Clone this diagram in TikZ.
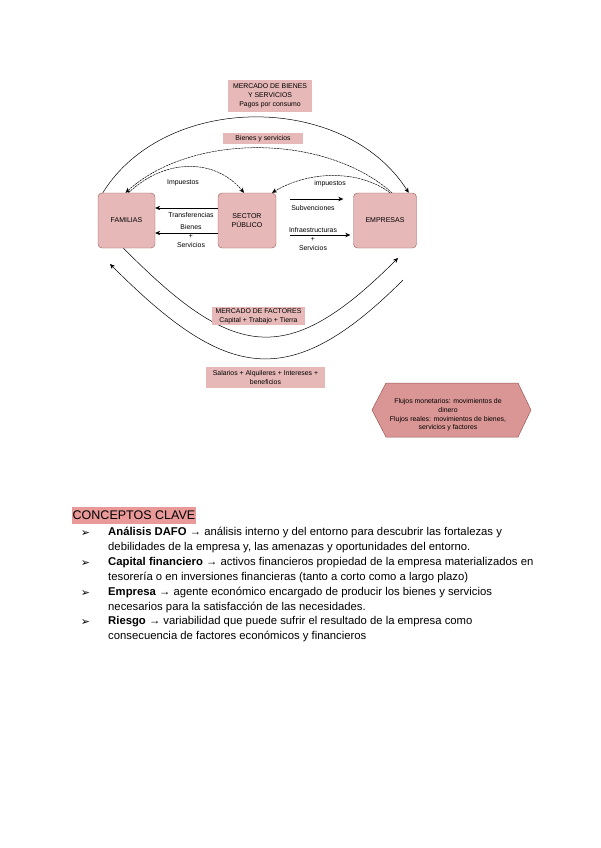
\documentclass[tikz,border=0pt]{standalone}
\usepackage{fontspec}
\setmainfont{Liberation Sans}
\newfontfamily\symfont{DejaVu Sans}
\usetikzlibrary{arrows.meta}
\definecolor{rosa}{HTML}{E6B8B7}
\definecolor{rosaosc}{HTML}{DA9694}
\definecolor{marca}{HTML}{EA9999}
\definecolor{borde}{HTML}{9C5A58}
\tikzset{
  every picture/.style={line join=round, line cap=round, >=Stealth},
}
\begin{document}
\begin{tikzpicture}[x=1pt,y=-1pt,
  agente/.style={draw=borde, fill=rosa, rounded corners=4pt, minimum width=#1, minimum height=55pt, inner sep=0pt, font=\fontsize{7}{8.5}\selectfont, align=center},
  rotulo/.style={fill=rosa, inner sep=0pt, font=\fontsize{6.9}{8.8}\selectfont, align=center},
  etiq/.style={inner sep=0pt, font=\fontsize{6.9}{9.2}\selectfont, align=center},
  flujo/.style={-{Stealth[length=5pt,width=4.5pt]}, line width=0.5pt},
  punteado/.style={dash pattern=on 2pt off 1pt},
  vineta/.style={inner sep=0pt, font=\symfont\fontsize{11}{12}\selectfont},
  cuerpo/.style={anchor=north west, inner sep=0pt, align=left, font=\fontsize{11.3}{15}\selectfont},
]
\fill[white] (0,0) rectangle (600,848);
\useasboundingbox (0,0) rectangle (600,848);

\node[agente=57pt] (fam) at (126.5,220.5) {FAMILIAS};
\node[agente=58pt] (sec) at (247,220.5) {SECTOR\\PÚBLICO};
\node[agente=63pt] (emp) at (385,220.5) {EMPRESAS};

\coordinate (fa) at (398,258);
\coordinate (eb) at (403,280);
\coordinate (fb) at (110,264);

\draw[flujo] ([xshift=5pt]fam.north west) .. controls (165,92) and (345,92) .. ([xshift=-8pt]emp.north east);
\draw[flujo,punteado] ([xshift=7pt]emp.north) .. controls (325,133) and (191,133) .. ([xshift=-1pt]fam.north);
\draw[flujo,punteado] ([xshift=2pt]fam.north) .. controls (165,158) and (215,158) .. ([xshift=-3pt]sec.north);
\draw[flujo,punteado] ([xshift=5pt]emp.north) .. controls (360,170) and (310,170) .. ([xshift=25pt]sec.north);
\draw[flujo] ([yshift=12.5pt]sec.west) -- ([yshift=12.5pt]fam.west -| fam.east);
\draw[flujo] ([yshift=-12.5pt]sec.west) -- ([yshift=-12.5pt]fam.west -| fam.east);
\draw[flujo,shorten <=14pt,shorten >=10pt] ([yshift=21.5pt]sec.east) -- ([yshift=21.5pt]emp.west);
\draw[flujo,shorten <=14pt,shorten >=3pt] ([yshift=-14.5pt]sec.east) -- ([yshift=-14.5pt]emp.west);
\draw[flujo] ([xshift=-3pt]fam.south) .. controls (234,360) and (287,369) .. (fa);
\draw[flujo] (eb) .. controls (288,395) and (225,379) .. (fb);

\node[rotulo, minimum width=84pt, minimum height=32pt] (mbs) at (270,96) {MERCADO DE BIENES\\Y SERVICIOS\\Pagos por consumo};
\node[rotulo, minimum width=80pt, minimum height=11pt] (bys) at (263,138.5) {Bienes y servicios};
\node[rotulo, minimum width=93pt, minimum height=18pt] (mfa) at (258.5,316) {MERCADO DE FACTORES\\Capital + Trabajo + Tierra};
\node[rotulo, minimum width=119pt, minimum height=21pt] (sal) at (265.5,377.5) {Salarios + Alquileres + Intereses +\\beneficios};

\node[etiq] (imp1) at (183,183) {Impuestos};
\node[etiq] (imp2) at (330,184) {impuestos};
\node[etiq] (tra) at (191,215) {Transferencias};
\node[etiq] (bie) at (191,236) {Bienes\\+\\Servicios};
\node[etiq] (sub) at (313,208) {Subvenciones};
\node[etiq] (inf) at (313,239) {Infraestructuras\\+\\Servicios};

\draw[draw=borde, fill=rosaosc, line width=0.5pt] (372,410) -- (386,383) -- (518,383) -- (531,410) -- (518,437) -- (386,437) -- cycle;
\node[etiq, font=\fontsize{6.9}{8.8}\selectfont] (nota) at (448,415) {Flujos monetarios: movimientos de\\dinero\\Flujos reales: movimientos de bienes,\\servicios y factores};

\node[fill=marca, anchor=west, inner xsep=0.5pt, inner ysep=0pt, minimum height=17pt, font=\fontsize{12.5}{14}\selectfont] (cc) at (72,515.5) {CONCEPTOS CLAVE};

\node[vineta] (b1) at (85.5,534) {➢};
\node[vineta] (b2) at (85.5,564) {➢};
\node[vineta] (b3) at (85.5,594) {➢};
\node[vineta] (b4) at (85.5,623) {➢};

\node[cuerpo] (t1) at (108,527) {\textbf{Análisis DAFO} → análisis interno y del entorno para descubrir las fortalezas y\\debilidades de la empresa y, las amenazas y oportunidades del entorno.};
\node[cuerpo] (t2) at (108,557) {\textbf{Capital financiero} → activos financieros propiedad de la empresa materializados en\\tesorería o en inversiones financieras (tanto a corto como a largo plazo)};
\node[cuerpo] (t3) at (108,587) {\textbf{Empresa} → agente económico encargado de producir los bienes y servicios\\necesarios para la satisfacción de las necesidades.};
\node[cuerpo] (t4) at (108,616) {\textbf{Riesgo} → variabilidad que puede sufrir el resultado de la empresa como\\consecuencia de factores económicos y financieros};
\end{tikzpicture}
\end{document}
